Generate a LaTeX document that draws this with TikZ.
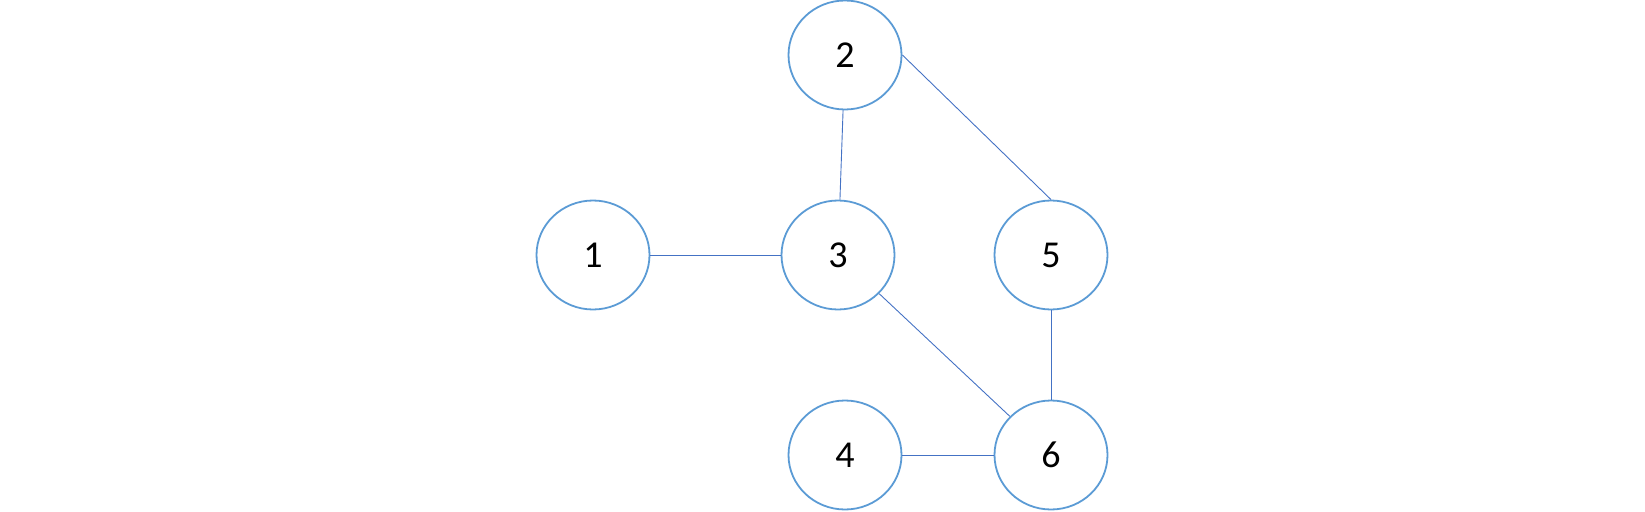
\documentclass[tikz,border=0pt]{standalone}
\usepackage{fontspec}
\setmainfont{Carlito}
\usepackage{tikz}
\usetikzlibrary{shapes.geometric}
\definecolor{nodeblue}{HTML}{5B9BD5}
\definecolor{edgeblue}{HTML}{4472C4}
\tikzset{
  vert/.style = {ellipse, draw=nodeblue, line width=1.8pt, fill=white,
                 minimum width=113pt, minimum height=109pt, inner sep=0pt,
                 font=\fontsize{38}{40}\selectfont},
  link/.style = {draw=edgeblue, line width=0.9pt},
}
\begin{document}
\begin{tikzpicture}[x=1pt, y=-1pt]
  \useasboundingbox (0,0) rectangle (1645,511);
  \node[vert] (n1) at (593,255) {1};
  \node[vert] (n2) at (845,55) {2};
  \node[vert] (n3) at (838,255) {3};
  \node[vert] (n4) at (845,455) {4};
  \node[vert] (n5) at (1051,255) {5};
  \node[vert] (n6) at (1051,455) {6};

  \draw[link] (n1) -- (n3);
  \draw[link] (n2) -- (n3);
  \draw[link] (n2.east) -- (n5.north);
  \draw[link] (n3) -- (n6);
  \draw[link] (n5) -- (n6);
  \draw[link] (n4) -- (n6);
\end{tikzpicture}
\end{document}
